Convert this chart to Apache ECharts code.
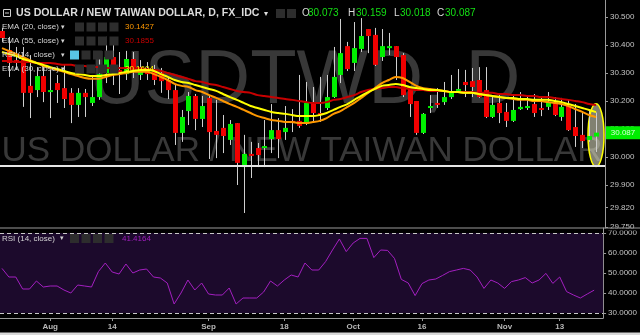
<!DOCTYPE html>
<html><head><meta charset="utf-8">
<script src="https://cdn.jsdelivr.net/npm/echarts@6/dist/echarts.min.js"></script>
<style>html,body{margin:0;padding:0;background:#000;}#c{width:640px;height:335px;}</style>
</head><body><div id="c"></div>
<script>
const dates = ['2017-07-21','2017-07-24','2017-07-25','2017-07-26','2017-07-27','2017-07-28','2017-07-31',
'2017-08-01','2017-08-02','2017-08-03','2017-08-04','2017-08-07','2017-08-08','2017-08-09','2017-08-10','2017-08-11','2017-08-14','2017-08-15','2017-08-16','2017-08-17','2017-08-18','2017-08-21','2017-08-22','2017-08-23','2017-08-24','2017-08-25','2017-08-28','2017-08-29','2017-08-30','2017-08-31',
'2017-09-01','2017-09-04','2017-09-05','2017-09-06','2017-09-07','2017-09-08','2017-09-11','2017-09-12','2017-09-13','2017-09-14','2017-09-15','2017-09-18','2017-09-19','2017-09-20','2017-09-21','2017-09-22','2017-09-25','2017-09-26','2017-09-27','2017-09-28','2017-09-29',
'2017-10-02','2017-10-03','2017-10-04','2017-10-05','2017-10-06','2017-10-09','2017-10-10','2017-10-11','2017-10-12','2017-10-13','2017-10-16','2017-10-17','2017-10-18','2017-10-19','2017-10-20','2017-10-23','2017-10-24','2017-10-25','2017-10-26','2017-10-27','2017-10-30','2017-10-31',
'2017-11-01','2017-11-02','2017-11-03','2017-11-06','2017-11-07','2017-11-08','2017-11-09','2017-11-10','2017-11-13','2017-11-14','2017-11-15','2017-11-16','2017-11-17','2017-11-20'];
const open = [30.450,30.382,30.346,30.346,30.254,30.239,30.289,30.232,30.264,30.246,30.229,30.186,30.229,30.193,30.214,30.300,30.357,30.311,30.296,30.350,30.293,30.311,30.304,30.300,30.275,30.239,30.086,30.164,30.218,30.136,30.211,30.093,30.104,30.061,30.121,29.964,30.011,30.032,30.036,30.064,30.096,30.089,30.129,30.129,30.118,30.193,30.157,30.175,30.214,30.293,30.396,30.336,30.386,30.457,30.436,30.357,30.393,30.396,30.364,30.243,30.200,30.086,30.179,30.193,30.196,30.214,30.236,30.268,30.271,30.275,30.239,30.143,30.193,30.161,30.129,30.171,30.175,30.189,30.175,30.179,30.196,30.143,30.182,30.107,30.079,30.061,30.073];
const close = [30.425,30.336,30.339,30.229,30.229,30.289,30.232,30.239,30.239,30.207,30.186,30.229,30.214,30.214,30.296,30.357,30.304,30.296,30.350,30.311,30.311,30.296,30.275,30.271,30.239,30.086,30.143,30.218,30.136,30.182,30.089,30.079,30.075,30.118,29.979,30.011,30.004,30.007,30.039,30.096,30.064,30.104,30.121,30.111,30.193,30.157,30.150,30.214,30.286,30.371,30.314,30.389,30.432,30.432,30.329,30.396,30.396,30.357,30.221,30.189,30.086,30.154,30.182,30.186,30.214,30.229,30.243,30.257,30.250,30.214,30.143,30.186,30.157,30.129,30.168,30.179,30.182,30.157,30.168,30.196,30.150,30.179,30.096,30.075,30.057,30.075,30.087];
const low = [30.411,30.286,30.311,30.179,30.139,30.214,30.196,30.139,30.193,30.175,30.121,30.143,30.143,30.182,30.204,30.264,30.257,30.225,30.275,30.282,30.275,30.275,30.257,30.229,30.207,30.043,30.054,30.114,30.096,30.107,29.993,29.996,30.014,30.043,29.900,29.800,29.925,29.964,29.964,30.014,29.996,30.061,30.089,30.104,30.114,30.125,30.125,30.168,30.211,30.264,30.307,30.307,30.375,30.371,30.325,30.343,30.364,30.275,30.214,30.143,30.079,30.082,30.157,30.175,30.186,30.207,30.229,30.214,30.214,30.211,30.139,30.139,30.121,30.107,30.125,30.168,30.168,30.143,30.146,30.168,30.146,30.129,30.093,30.036,30.032,30.054,30.018];
const high = [30.461,30.429,30.393,30.393,30.364,30.321,30.329,30.311,30.293,30.329,30.246,30.246,30.243,30.293,30.354,30.429,30.425,30.375,30.379,30.375,30.346,30.339,30.329,30.318,30.282,30.257,30.168,30.232,30.225,30.218,30.218,30.204,30.150,30.132,30.121,30.079,30.054,30.050,30.132,30.189,30.139,30.182,30.171,30.293,30.268,30.250,30.286,30.293,30.393,30.493,30.411,30.482,30.496,30.457,30.461,30.457,30.443,30.396,30.371,30.243,30.200,30.157,30.221,30.246,30.268,30.293,30.314,30.311,30.318,30.321,30.321,30.221,30.221,30.193,30.221,30.232,30.221,30.225,30.211,30.232,30.214,30.211,30.204,30.189,30.161,30.168,30.159];
const ema20 = [30.389,30.379,30.368,30.357,30.346,30.336,30.325,30.318,30.311,30.304,30.296,30.289,30.282,30.279,30.279,30.286,30.293,30.296,30.300,30.304,30.304,30.304,30.296,30.286,30.275,30.261,30.254,30.250,30.239,30.232,30.221,30.211,30.200,30.189,30.179,30.168,30.157,30.146,30.139,30.132,30.129,30.125,30.125,30.121,30.121,30.125,30.129,30.139,30.154,30.164,30.179,30.193,30.211,30.229,30.246,30.264,30.275,30.286,30.282,30.268,30.254,30.246,30.243,30.239,30.236,30.232,30.232,30.229,30.229,30.225,30.221,30.218,30.214,30.211,30.207,30.204,30.204,30.200,30.200,30.196,30.193,30.189,30.182,30.171,30.161,30.150,30.1427];
const ema55 = [30.343,30.343,30.339,30.339,30.339,30.336,30.336,30.336,30.332,30.329,30.329,30.325,30.325,30.321,30.321,30.318,30.318,30.318,30.318,30.318,30.318,30.314,30.311,30.307,30.300,30.293,30.286,30.279,30.271,30.268,30.261,30.257,30.250,30.243,30.236,30.232,30.229,30.221,30.218,30.214,30.211,30.207,30.204,30.200,30.196,30.193,30.193,30.196,30.204,30.207,30.214,30.221,30.232,30.239,30.243,30.246,30.250,30.250,30.246,30.243,30.239,30.239,30.236,30.236,30.236,30.232,30.232,30.232,30.232,30.229,30.229,30.229,30.225,30.225,30.221,30.221,30.218,30.218,30.214,30.214,30.211,30.207,30.204,30.200,30.196,30.189,30.1855];
const ema30 = [30.375,30.368,30.361,30.350,30.343,30.336,30.329,30.321,30.314,30.307,30.300,30.296,30.293,30.289,30.289,30.293,30.296,30.300,30.304,30.307,30.311,30.311,30.307,30.296,30.286,30.275,30.268,30.264,30.257,30.250,30.243,30.236,30.225,30.214,30.204,30.193,30.182,30.175,30.168,30.161,30.157,30.154,30.150,30.146,30.146,30.146,30.150,30.157,30.168,30.179,30.189,30.204,30.218,30.232,30.243,30.254,30.257,30.261,30.257,30.250,30.246,30.243,30.239,30.239,30.236,30.232,30.232,30.229,30.229,30.225,30.221,30.218,30.214,30.211,30.211,30.207,30.207,30.204,30.204,30.204,30.200,30.196,30.189,30.182,30.175,30.168,30.1604];
const rsi14 = [52.3,48,48,42,42,46,43,43.5,43.5,41.5,40,44,43.5,43,50.7,55,50.5,49.5,54.5,50,51.5,52,48,47.5,45,34.5,40,46.5,41.5,45,39.5,39,39,42.5,34.5,37.5,37.5,37.5,40.5,46,43.5,46.5,49,48,55,51.5,51.5,55.7,61.5,67,60.7,65,67.3,67.3,57.7,61.5,61.3,57.3,46.8,45,38.7,44.7,46.5,47,48.8,50.7,51.5,52.3,51.5,48,42.3,46.5,45,42.3,45.7,46.5,47.7,45,46.5,49.8,44.8,48,40.7,39,37.5,39.5,41.4164];
const priceTicks = [30.5,30.4,30.3,30.2,30.1,30.0,29.9,29.82,29.75];
const rsiTicks = [70,60,50,40,30];
const xTickDates = ['2017-08-01','2017-08-14','2017-09-01','2017-09-18','2017-10-02','2017-10-16','2017-11-01','2017-11-13'];
const xTickLabels = ['Aug','14','Sep','18','Oct','16','Nov','13'];
const supportLevel = 29.972;
const rsiBand = [30, 70];

const FONT = '"Liberation Sans", Arial, sans-serif';
const xTickIdx = xTickDates.map(d => dates.indexOf(d));
const n = dates.length;
const xMin = -0.29, xMax = n + 0.3;

const chart = echarts.init(document.getElementById('c'), null, {renderer: 'canvas'});
const axisGray = '#9a9a9a';
const option = {
  backgroundColor: '#000',
  animation: false,
  grid: [
    {left: 0, right: 35, top: 0, height: 228},
    {left: 0, right: 35, top: 228, height: 90}
  ],
  xAxis: [
    {type: 'value', gridIndex: 0, min: xMin, max: xMax, axisLine: {show: false, onZero: false}, axisTick: {show: false}, axisLabel: {show: false}, splitLine: {show: false}},
    {type: 'value', gridIndex: 1, min: xMin, max: xMax,
      axisLine: {show: true, onZero: false, lineStyle: {color: axisGray}},
      axisTick: {show: true, customValues: xTickIdx, length: 3, lineStyle: {color: axisGray}},
      axisLabel: {show: true, customValues: xTickIdx, formatter: v => xTickLabels[xTickIdx.indexOf(Math.round(v))] || '', color: '#b8b8b8', fontSize: 8, fontWeight: 'bold', fontFamily: FONT, margin: 5},
      splitLine: {show: false}}
  ],
  yAxis: [
    {type: 'value', gridIndex: 0, position: 'right', min: 29.7464, max: 30.5607,
      axisLine: {show: true, onZero: false, lineStyle: {color: axisGray}},
      axisTick: {show: true, customValues: priceTicks, length: 3, lineStyle: {color: axisGray}},
      axisLabel: {show: true, customValues: priceTicks, formatter: v => v.toFixed(3), color: '#c4c4c4', fontSize: 8, fontFamily: FONT, margin: 5},
      splitLine: {show: false}},
    {type: 'value', gridIndex: 1, position: 'right', min: 27.5, max: 72.5,
      axisLine: {show: true, onZero: false, lineStyle: {color: axisGray}},
      axisTick: {show: true, customValues: rsiTicks, length: 3, lineStyle: {color: axisGray}},
      axisLabel: {show: true, customValues: rsiTicks, formatter: v => v.toFixed(4), color: '#c4c4c4', fontSize: 8, fontFamily: FONT, margin: 5},
      splitLine: {show: false}}
  ],
  series: [
    {
      type: 'custom', name: 'USDTWD', xAxisIndex: 0, yAxisIndex: 0, z: 3, clip: true,
      data: dates.map((d, i) => [i, open[i], close[i], low[i], high[i]]),
      encode: {x: 0, y: [1, 2, 3, 4]},
      renderItem: function (params, api) {
        const i = api.value(0);
        const o = api.value(1), c = api.value(2), l = api.value(3), h = api.value(4);
        const pH = api.coord([i, h]), pL = api.coord([i, l]);
        const pO = api.coord([i, o]), pC = api.coord([i, c]);
        const xc = Math.round(pO[0]);
        const bw = 5;
        const top = Math.min(pO[1], pC[1]);
        const hgt = Math.max(2, Math.abs(pO[1] - pC[1]));
        return {type: 'group', children: [
          {type: 'line', shape: {x1: xc + 0.5, y1: pH[1], x2: xc + 0.5, y2: pL[1]}, style: {stroke: '#cfcfcf', lineWidth: 1}},
          {type: 'rect', shape: {x: xc - 2, y: top, width: bw, height: hgt}, style: {fill: c >= o ? '#00f000' : '#f00000'}}
        ]};
      }
    },
    {type: 'line', name: 'EMA 55', xAxisIndex: 0, yAxisIndex: 0, z: 4, data: ema55.map((v, i) => [i, v]), showSymbol: false, smooth: 0.3, silent: true,
      lineStyle: {color: '#c80000', width: 2},
      markLine: {silent: true, symbol: ['none', 'none'], label: {show: false}, lineStyle: {color: '#e6e6e6', width: 2, type: 'solid'}, data: [{yAxis: supportLevel}]}},
    {type: 'line', name: 'EMA 20', xAxisIndex: 0, yAxisIndex: 0, z: 4, data: ema20.map((v, i) => [i, v]), showSymbol: false, smooth: 0.3, silent: true,
      lineStyle: {color: '#ff9800', width: 2}},
    {type: 'line', name: 'EMA 30', xAxisIndex: 0, yAxisIndex: 0, z: 4, data: ema30.map((v, i) => [i, v]), showSymbol: false, smooth: 0.3, silent: true,
      lineStyle: {color: '#ffff00', width: 2}},
    {type: 'line', name: 'RSI', xAxisIndex: 1, yAxisIndex: 1, z: 4, data: rsi14.map((v, i) => [i, v]), showSymbol: false, silent: true,
      lineStyle: {color: '#a31fc0', width: 1},
      markArea: {silent: true, itemStyle: {color: '#1c0a2c'}, data: [[{yAxis: rsiBand[0]}, {yAxis: rsiBand[1]}]]},
      markLine: {silent: true, symbol: ['none', 'none'], label: {show: false}, lineStyle: {color: '#c8c8c8', width: 1, type: [4, 3]}, data: [{yAxis: rsiBand[1]}, {yAxis: rsiBand[0]}]}}
  ]
};
chart.setOption(option);

function txt(x, y, text, fill, size, weight, align, z) {
  return {type: 'text', x: x, y: y, z: z == null ? 100 : z, silent: true,
    style: {text: text, fill: fill, fontSize: size, fontWeight: weight || 'normal', fontFamily: FONT, align: align || 'left', verticalAlign: 'middle'}};
}
function icon(x, y, fill) {
  return {type: 'rect', z: 100, silent: true, shape: {x: x, y: y - 4.5, width: 9, height: 9}, style: {fill: fill || '#2d2d2d'}};
}
const last = n - 1;
const g = [];
// watermarks
g.push(txt(305, 82, 'USDTWD, D', '#383838', 76, 'normal', 'center', 0));
g.push(txt(302, 151, 'US DOLLAR / NEW TAIWAN DOLLAR', '#383838', 35, 'normal', 'center', 0));
// highlight ellipse around the last candle
const eTop = chart.convertToPixel({xAxisIndex: 0, yAxisIndex: 0}, [last, 30.190]);
const eBot = chart.convertToPixel({xAxisIndex: 0, yAxisIndex: 0}, [last, 29.966]);
g.push({type: 'ellipse', z: 1, silent: true, shape: {cx: eTop[0], cy: (eTop[1] + eBot[1]) / 2, rx: 8, ry: (eBot[1] - eTop[1]) / 2},
  style: {fill: 'rgba(235,235,205,0.55)', stroke: '#ffff00', lineWidth: 1.5}});
// header
g.push({type: 'rect', z: 100, silent: true, shape: {x: 3.5, y: 9.5, width: 7, height: 7}, style: {fill: 'none', stroke: '#cfcfcf', lineWidth: 1}});
g.push({type: 'line', z: 100, silent: true, shape: {x1: 5, y1: 13, x2: 9, y2: 13}, style: {stroke: '#cfcfcf', lineWidth: 1}});
g.push(txt(16, 13.5, 'US DOLLAR / NEW TAIWAN DOLLAR, D, FX_IDC', '#dcdcdc', 10.6, 'bold'));
g.push(txt(264, 13.5, '▾', '#dcdcdc', 8));
g.push(icon(276, 13.5)); g.push(icon(287, 13.5));
const green = '#14e014';
g.push(txt(302, 13.5, 'O', '#dcdcdc', 10)); g.push(txt(308, 13.5, open[last].toFixed(3), green, 10));
g.push(txt(348, 13.5, 'H', '#dcdcdc', 10)); g.push(txt(356, 13.5, high[last].toFixed(3), green, 10));
g.push(txt(394, 13.5, 'L', '#dcdcdc', 10)); g.push(txt(400, 13.5, low[last].toFixed(3), green, 10));
g.push(txt(437, 13.5, 'C', '#dcdcdc', 10)); g.push(txt(445, 13.5, close[last].toFixed(3), green, 10));
// indicator legend rows
const rows = [
  {y: 27, label: 'EMA (20, close)', val: ema20[last].toFixed(4), col: '#ff9800', ix: 75},
  {y: 41, label: 'EMA (55, close)', val: ema55[last].toFixed(4), col: '#c80000', ix: 75},
  {y: 55, label: 'RSI (14, close)', val: null, col: null, ix: 70, blue: true},
  {y: 69, label: 'EMA (30, close)', val: ema30[last].toFixed(4), col: '#ffff00', ix: 75}
];
rows.forEach(r => {
  g.push(txt(2, r.y, r.label, '#d4d4d4', 8));
  g.push(txt(61, r.y, '▾', '#d4d4d4', 7));
  for (let k = 0; k < 4; k++) g.push(icon(r.ix + k * 11.5, r.y, (r.blue && k === 0) ? '#58c4e6' : null));
  if (r.val) g.push(txt(125, r.y, r.val, r.col, 8));
});
// RSI pane legend
g.push(txt(2, 238.5, 'RSI (14, close)', '#d4d4d4', 8));
g.push(txt(60, 238.5, '▾', '#d4d4d4', 7));
for (let k = 0; k < 4; k++) g.push(icon(70 + k * 11.5, 238.5));
g.push(txt(122, 238.5, rsi14[last].toFixed(4), '#a31fc0', 8));
// last price tag
const pc = chart.convertToPixel({xAxisIndex: 0, yAxisIndex: 0}, [last, close[last]]);
g.push({type: 'rect', z: 100, silent: true, shape: {x: 606, y: pc[1] - 6.5, width: 34, height: 13}, style: {fill: '#00ee00'}});
g.push(txt(623, pc[1], close[last].toFixed(3), '#d8ffd8', 8, 'normal', 'center', 101));
// pane separator and bottom strip
g.push({type: 'rect', z: 90, silent: true, shape: {x: 606, y: 228.5, width: 34, height: 2}, style: {fill: '#000'}});
g.push({type: 'line', z: 95, silent: true, shape: {x1: 0, y1: 228, x2: 640, y2: 228}, style: {stroke: axisGray, lineWidth: 1.2}});
g.push({type: 'rect', z: 95, silent: true, shape: {x: 0, y: 332.5, width: 640, height: 2.5}, style: {fill: '#d8d8d8'}});
chart.setOption({graphic: g});
</script>
</body></html>
